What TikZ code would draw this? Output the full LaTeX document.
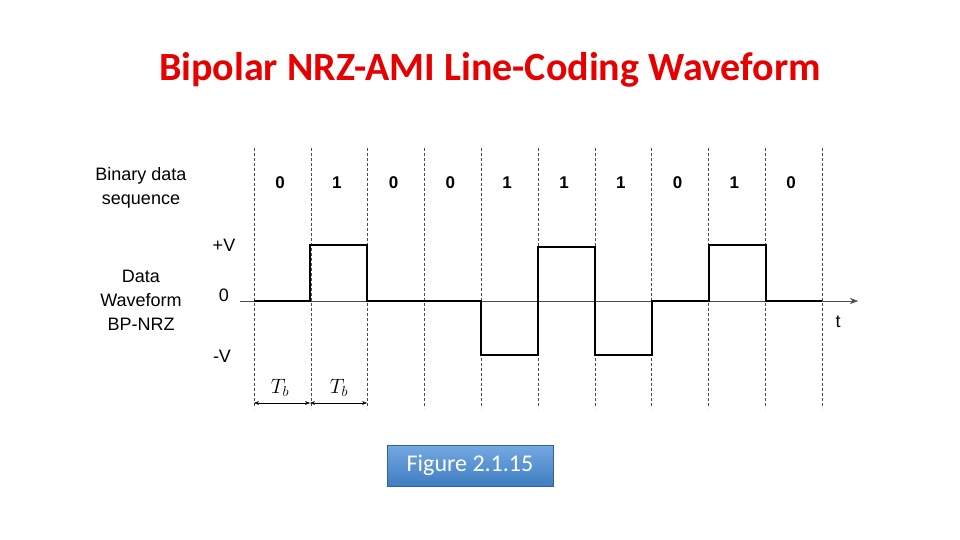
\documentclass[tikz,border=0pt]{standalone}
\usepackage{fontspec}
\setmainfont{Liberation Sans}
\newfontfamily\titlefont{Carlito}
\usetikzlibrary{arrows.meta}
\definecolor{titlered}{RGB}{230,0,0}
\definecolor{figblue}{RGB}{70,140,215}
\begin{document}
\begin{tikzpicture}[x=1pt,y=-1pt,
  grid/.style={densely dashed,thin,black!70},
  wave/.style={line width=1.6pt,line join=miter},
  lbl/.style={font=\fontsize{18}{24}\selectfont,align=center},
  bit/.style={font=\bfseries\fontsize{17}{19}\selectfont}]
  \useasboundingbox (0,0) rectangle (960,540);

  % Titel
  \node[text=titlered,font=\titlefont\bfseries\fontsize{40}{44}\selectfont] (title) at (490,70) {Bipolar NRZ-AMI Line-Coding Waveform};

  % Raster und Bits
  \foreach \i/\b in {0/0,1/1,2/0,3/0,4/1,5/1,6/1,7/0,8/1,9/0} {
    \draw[grid] (254+56.8*\i,148) -- (254+56.8*\i,408);
    \node[bit] (b\i) at (280+56.8*\i,183) {\b};
  }
  \draw[grid] (822,148) -- (822,408);

  % Achse
  \coordinate (a0) at (240,301);
  \coordinate (a1) at (858,301);
  \draw[-{Stealth[length=8pt]},black!70] (a0) -- (a1);
  \node[lbl] (t) at (838,322) {t};

  % Beschriftungen links
  \node[lbl] (seq) at (141,188) {Binary data\\sequence};
  \node[lbl] (dw) at (141,300) {Data\\Waveform\\BP-NRZ};
  \node[lbl] (pv) at (224,245) {+V};
  \node[lbl] (zv) at (224,295) {0};
  \node[lbl] (nv) at (222,356) {-V};

  % Signal
  \draw[wave] (254,301) -- (310,301) -- (310,245) -- (367,245) -- (367,301)
    -- (481,301) -- (481,355) -- (538,355) -- (538,247) -- (595,247)
    -- (595,355) -- (652,355) -- (652,301) -- (709,301) -- (709,245)
    -- (766,245) -- (766,301) -- (822,301);

  % Bitdauer
  \coordinate (t0) at (254,403);
  \coordinate (t1) at (310,403);
  \coordinate (t2) at (367,403);
  \draw[{Stealth[length=5pt]}-{Stealth[length=5pt]}] (t0) -- (t1);
  \draw[{Stealth[length=5pt]}-{Stealth[length=5pt]}] (t1) -- (t2);
  \node[lbl,font=\fontsize{22}{24}\selectfont] (tb1) at (280,388) {$T_b$};
  \node[lbl,font=\fontsize{22}{24}\selectfont] (tb2) at (339,388) {$T_b$};

  % Bildnummer
  \node[draw=figblue!70!black,top color=figblue!75,bottom color=figblue!90!black,
    text=white,font=\titlefont\fontsize{24}{26}\selectfont,
    minimum width=166,minimum height=41] (fig) at (470,465.5) {Figure 2.1.15};
\end{tikzpicture}
\end{document}
